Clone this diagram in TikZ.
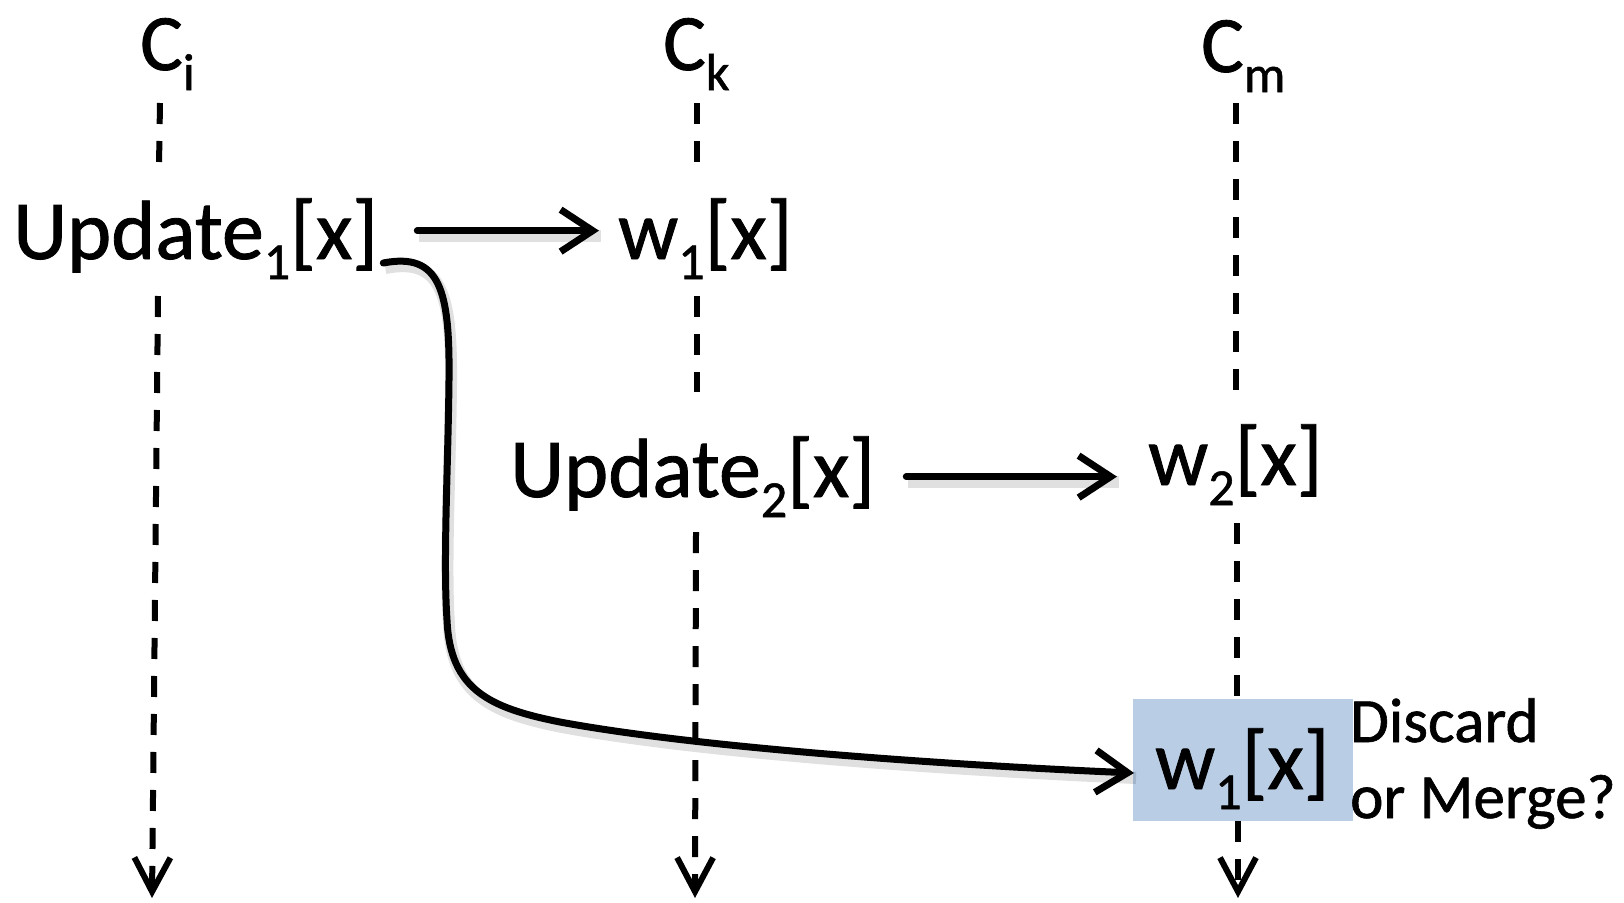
\documentclass[tikz,border=0pt]{standalone}
\usepackage{fontspec}
\setmainfont{Carlito}[FakeBold=1]
\usetikzlibrary{arrows.meta}
\definecolor{boxblue}{RGB}{185,205,229}
% lowered, smaller index set after a letter
\newcommand\lowsub[1]{\raisebox{-20pt}{\fontsize{52}{52}\selectfont #1}}
\begin{document}
\begin{tikzpicture}[x=1pt,y=-1pt,
  lbl/.style={inner sep=0pt, anchor=base west, font=\fontsize{84}{100}\selectfont},
  clbl/.style={inner sep=0pt, anchor=base west, font=\fontsize{80}{96}\selectfont},
  note/.style={inner sep=0pt, anchor=base west, font=\fontsize{63}{76}\selectfont},
  life/.style={line width=6pt, dash pattern=on 21pt off 17pt},
  lifeend/.style={life, -{Straight Barb[length=34pt,width=36pt]}},
  msg/.style={line width=7pt, line cap=round, -{Straight Barb[length=32pt,width=42pt]}},
  soft/.style={draw=black, opacity=0.12, line width=12pt, transform canvas={shift={(2pt,-5pt)}}},
]
\useasboundingbox (0,0) rectangle (1624,902);

% highlighted receipt at C_m
\node[fill=boxblue, minimum width=220pt, minimum height=122pt, inner sep=0pt] (box) at (1243,760) {};

% process labels
\node[clbl] (ci) at (140,70) {C\lowsub{i}};
\node[clbl] (ck) at (663,70) {C\lowsub{k}};
\node[clbl] (cm) at (1201,72) {C\lowsub{m}};

% events
\node[lbl] (u1) at (13,259) {Update\lowsub{1}[x]};
\node[lbl] (w1) at (618,259) {w\lowsub{1}[x]};
\node[lbl] (u2) at (510,497) {Update\lowsub{2}[x]};
\node[lbl] (w2) at (1148,485) {w\lowsub{2}[x]};
\node[lbl] (w1m) at (1155,789) {w\lowsub{1}[x]};
\node[note] (q1) at (1350,742) {Discard};
\node[note] (q2) at (1350,818) {or Merge?};

% lifeline end points
\coordinate (ci-a) at (160,103); \coordinate (ci-b) at (159,166);
\coordinate (ci-c) at (158,296); \coordinate (ci-end) at (152,898);
\coordinate (ck-a) at (697,103); \coordinate (ck-b) at (697,166);
\coordinate (ck-c) at (697,296); \coordinate (ck-d) at (697,392);
\coordinate (ck-e) at (696,532); \coordinate (ck-end) at (695,898);
\coordinate (cm-a) at (1236,103); \coordinate (cm-b) at (1236,395);
\coordinate (cm-c) at (1237,523); \coordinate (cm-d) at (1237,699);
\coordinate (cm-e) at (1238,821); \coordinate (cm-end) at (1238,898);

% lifelines
\draw[life] (ci-a) -- (ci-b);
\draw[lifeend] (ci-c) -- (ci-end);
\draw[life] (ck-a) -- (ck-b);
\draw[life] (ck-c) -- (ck-d);
\draw[lifeend] (ck-e) -- (ck-end);
\draw[life] (cm-a) -- (cm-b);
\draw[life] (cm-c) -- (cm-d);
\draw[lifeend] (cm-e) -- (cm-end);

% messages
\coordinate (late) at (1134,773);
\draw[soft] ([xshift=39pt,yshift=8pt]u1.east) -- ([xshift=-19pt,yshift=8pt]u1.east -| w1.west);
\draw[msg] ([xshift=39pt,yshift=8pt]u1.east) -- ([xshift=-19pt,yshift=8pt]u1.east -| w1.west);
\draw[soft] ([xshift=31pt]u2.east) -- ([xshift=-31pt]u2.east -| w2.west);
\draw[msg] ([xshift=31pt]u2.east) -- ([xshift=-31pt]u2.east -| w2.west);
\draw[soft] ([shift={(5,4)}]u1.base east) .. controls (440,252) and (450,290) .. (449,380)
  .. controls (448,470) and (443,560) .. (447,620)
  .. controls (450,690) and (490,708) .. (560,722)
  .. controls (700,748) and (950,765) .. (late);
\draw[msg] ([shift={(5,4)}]u1.base east) .. controls (440,252) and (450,290) .. (449,380)
  .. controls (448,470) and (443,560) .. (447,620)
  .. controls (450,690) and (490,708) .. (560,722)
  .. controls (700,748) and (950,765) .. (late);
\end{tikzpicture}
\end{document}
